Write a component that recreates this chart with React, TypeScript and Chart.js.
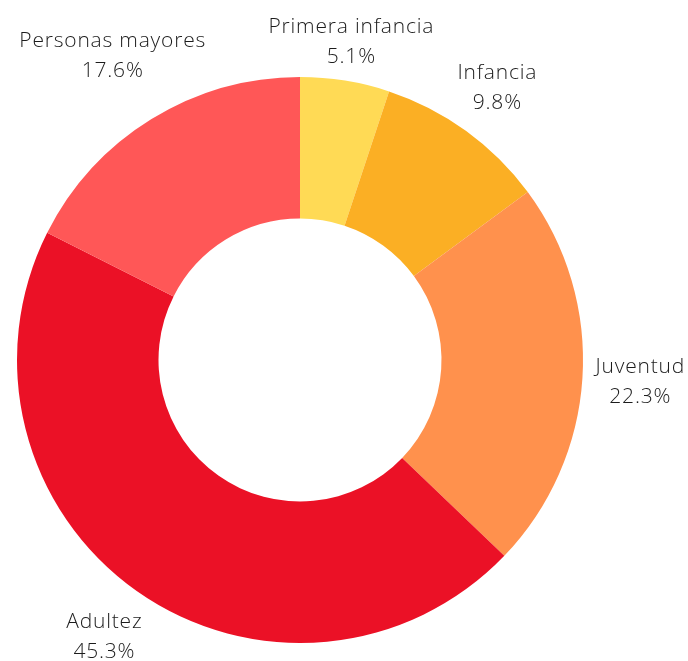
import React, { useEffect, useRef } from "react";
import { Chart, registerables } from "chart.js";

Chart.register(...registerables);

const categories = ["Primera infancia", "Infancia", "Juventud", "Adultez", "Personas mayores"];
const values = [5.1, 9.8, 22.3, 45.3, 17.6];
const valueLabels = ["5.1%", "9.8%", "22.3%", "45.3%", "17.6%"];
const colors = ["#FFDA55", "#FBAF24", "#FF914D", "#EB1126", "#FF5757"];

const labelDistance = [39, 53, 58, 56, 74];

const outerLabels = {
  id: "outerLabels",
  afterDraw(chart: any) {
    const ctx = chart.ctx;
    const meta = chart.getDatasetMeta(0);
    ctx.save();
    ctx.font = "300 21px 'Open Sans', Lato, sans-serif";
    (ctx as any).letterSpacing = "0.8px";
    ctx.fillStyle = "#1c1c1c";
    ctx.textAlign = "center";
    ctx.textBaseline = "middle";
    meta.data.forEach((arc: any, i: number) => {
      const { x, y, startAngle, endAngle, outerRadius } = arc.getProps(
        ["x", "y", "startAngle", "endAngle", "outerRadius"],
        true
      );
      const mid = (startAngle + endAngle) / 2;
      const r = outerRadius + labelDistance[i];
      const cx = x + Math.cos(mid) * r;
      const cy = y + Math.sin(mid) * r;
      ctx.fillText(categories[i], cx, cy - 15);
      ctx.fillText(valueLabels[i], cx, cy + 15);
    });
    ctx.restore();
  },
};

export default function App() {
  const ref = useRef<HTMLCanvasElement | null>(null);
  useEffect(() => {
    if (!ref.current) return;
    const chart = new Chart(ref.current, {
      type: "doughnut",
      data: {
        labels: categories,
        datasets: [
          {
            data: values,
            backgroundColor: colors,
            borderWidth: 0,
          },
        ],
      },
      options: {
        animation: false,
        responsive: true,
        maintainAspectRatio: false,
        cutout: "50%",
        layout: { padding: { left: 17, right: 105, top: 77, bottom: 18 } },
        plugins: {
          legend: { display: false },
          tooltip: { enabled: false },
        },
      },
      plugins: [outerLabels],
    });
    return () => chart.destroy();
  }, []);
  return (
    <div style={{ position: "fixed", left: 0, top: 0, width: 688, height: 661, background: "#fff" }}>
      <canvas ref={ref} />
    </div>
  );
}
